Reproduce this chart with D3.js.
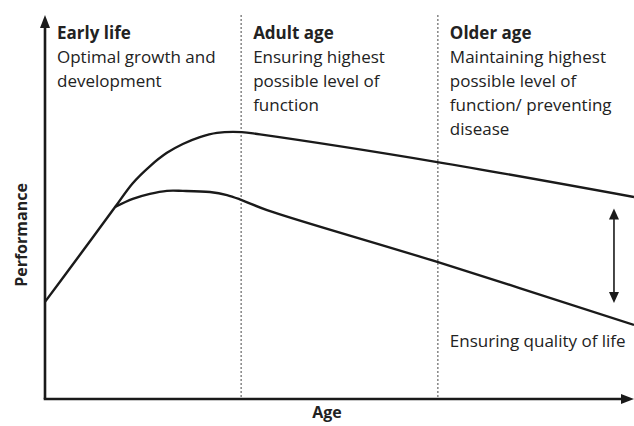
<!DOCTYPE html>
<html><head><meta charset="utf-8">
<script src="https://cdn.jsdelivr.net/npm/d3@7"></script>
<style>
html,body{margin:0;padding:0;background:#fff;}
text{font-family:"Open Sans","Noto Sans",sans-serif;fill:#222;}
</style></head>
<body><svg id="c" width="634" height="426"></svg>
<script>
// Age in arbitrary units (0–100), performance in arbitrary units (0–100)
const stageBounds = [33.3, 66.7];
const stageStarts = [0, 33.3, 66.7];
const stageTitles = ["Early life", "Adult age", "Older age"];
const stageTexts = [
  ["Optimal growth and", "development"],
  ["Ensuring highest", "possible level of", "function"],
  ["Maintaining highest", "possible level of", "function/ preventing", "disease"]
];
// upper (optimal) trajectory, starting at birth
const upperAge = [0, 6, 11.9, 14.9, 17.8, 20.7, 23.4, 26.3, 29.2, 33.4, 36.5, 66.6, 100];
const upperPerf = [25.3, 37.7, 50, 56.2, 60.6, 64.1, 66.4, 68.2, 69.3, 69.5, 68.9, 61.7, 52.6];
// lower trajectory branching off at the junction
const lowerAge = [11.9, 14.9, 17.8, 20.7, 23.4, 28.0, 30.9, 33.4, 37.7, 66.6, 100];
const lowerPerf = [50, 52.1, 53.4, 54.2, 54.2, 53.9, 53.1, 51.8, 49.2, 35.7, 19.3];
const gapArrow = {age: 96.6, top: 49.6, bottom: 25};
const xLabel = "Age", yLabel = "Performance";
const noteText = "Ensuring quality of life";

const svg = d3.select("#c");
const x = d3.scaleLinear().domain([0, 100]).range([45, 634]);
const y = d3.scaleLinear().domain([0, 100]).range([399, 15]);
const ink = "#1a1a1a";

// dotted stage separators
svg.selectAll("line.sep").data(stageBounds).join("line")
  .attr("x1", d => x(d)).attr("x2", d => x(d))
  .attr("y1", y(100)).attr("y2", y(0))
  .attr("stroke", "#666").attr("stroke-width", 1.2).attr("stroke-dasharray", "2,2");

// axes
svg.append("line").attr("x1", x(0)).attr("x2", x(0)).attr("y1", y(0)).attr("y2", y(100) + 10)
  .attr("stroke", ink).attr("stroke-width", 2.6);
svg.append("line").attr("x1", x(0) - 1.3).attr("x2", x(100) - 10).attr("y1", y(0)).attr("y2", y(0))
  .attr("stroke", ink).attr("stroke-width", 2.6);
svg.append("path").attr("d", `M${x(0)},${y(100)} L${x(0)-5},${y(100)+13} L${x(0)+5},${y(100)+13} Z`).attr("fill", ink);
svg.append("path").attr("d", `M${x(100)},${y(0)} L${x(100)-13},${y(0)-5} L${x(100)-13},${y(0)+5} Z`).attr("fill", ink);

// curves
const smooth = d3.line().x(d => x(d[0])).y(d => y(d[1])).curve(d3.curveCatmullRom.alpha(0.5));
svg.append("path").attr("d", smooth(d3.zip(upperAge, upperPerf)))
  .attr("fill", "none").attr("stroke", ink).attr("stroke-width", 2.4);
svg.append("path").attr("d", smooth(d3.zip(lowerAge, lowerPerf)))
  .attr("fill", "none").attr("stroke", ink).attr("stroke-width", 2.4);

// double arrow
const ax = x(gapArrow.age), at = y(gapArrow.top), ab = y(gapArrow.bottom);
svg.append("line").attr("x1", ax).attr("x2", ax).attr("y1", at + 8).attr("y2", ab - 8)
  .attr("stroke", "#333").attr("stroke-width", 1.8);
svg.append("path").attr("d", `M${ax},${at} L${ax-5},${at+11} L${ax+5},${at+11} Z`).attr("fill", ink);
svg.append("path").attr("d", `M${ax},${ab} L${ax-5},${ab-11} L${ax+5},${ab-11} Z`).attr("fill", ink);

// stage texts
const fs = 17;
stageStarts.forEach((s, i) => {
  const tx = x(s) + 12;
  svg.append("text").attr("x", tx).attr("y", 39).attr("font-size", fs).attr("font-weight", "bold").text(stageTitles[i]);
  stageTexts[i].forEach((t, j) => {
    svg.append("text").attr("x", tx).attr("y", 63 + j * 24).attr("font-size", fs).text(t);
  });
});
svg.append("text").attr("x", x(66.7) + 12).attr("y", 347).attr("font-size", fs).text(noteText);

// axis labels
svg.append("text").attr("x", 327).attr("y", 418).attr("text-anchor", "middle")
  .attr("font-size", 16).attr("font-weight", "bold").text(xLabel);
svg.append("text").attr("transform", "translate(27,235) rotate(-90)").attr("text-anchor", "middle")
  .attr("font-size", 16).attr("font-weight", "bold").text(yLabel);
</script></body></html>
